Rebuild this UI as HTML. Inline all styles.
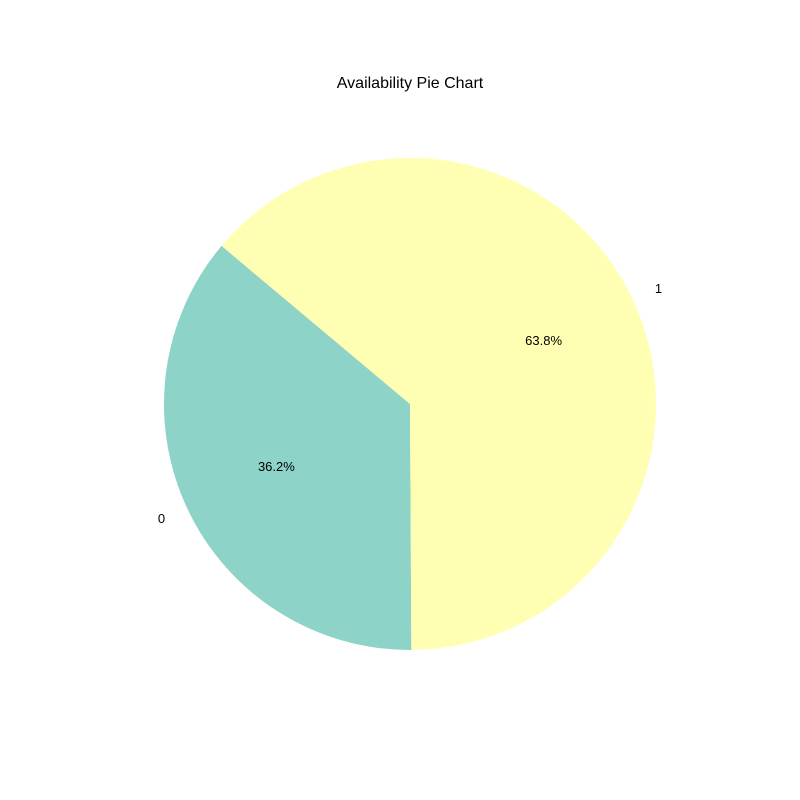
<!DOCTYPE html>
<html><head><meta charset="utf-8"><style>
html,body{margin:0;padding:0;background:#fff;}
svg{display:block;font-family:"Liberation Sans","DejaVu Sans",sans-serif;}
</style></head><body>
<svg id="chart" width="800" height="800">
<text x="410" y="88" text-anchor="middle" font-size="16">Availability Pie Chart</text>
<g id="slices"></g>
</svg>
<script>
const categories = ["0", "1"];
const values = [36.2, 63.8];
const colors = ["#8dd3c7", "#ffffb3"];
const cx = 410, cy = 404, r = 246, startAngle = 140;
const ns = "http://www.w3.org/2000/svg";
const g = document.getElementById('slices');
const total = values.reduce((a,b)=>a+b,0);
let a0 = startAngle;
function pt(angDeg, rad){const t=angDeg*Math.PI/180;return [cx+rad*Math.cos(t), cy-rad*Math.sin(t)];}
values.forEach((v,i)=>{
  const sweep = v/total*360, a1 = a0+sweep;
  const p0=pt(a0,r), p1=pt(a1,r);
  const large = sweep>180?1:0;
  const path=document.createElementNS(ns,'path');
  path.setAttribute('d',`M${cx},${cy} L${p0[0]},${p0[1]} A${r},${r} 0 ${large} 0 ${p1[0]},${p1[1]} Z`);
  path.setAttribute('fill',colors[i]);
  
  
  g.appendChild(path);
  const mid=(a0+a1)/2;
  const lp=pt(mid,r*1.1);
  const lt=document.createElementNS(ns,'text');
  lt.setAttribute('x',lp[0]);lt.setAttribute('y',lp[1]+4);
  lt.setAttribute('font-size','13');
  lt.setAttribute('text-anchor', Math.cos(mid*Math.PI/180)<0?'end':'start');
  lt.textContent=categories[i];
  
  
  g.appendChild(lt);
  const pp=pt(mid,r*0.6);
  const pt2=document.createElementNS(ns,'text');
  pt2.setAttribute('x',pp[0]);pt2.setAttribute('y',pp[1]+4);
  pt2.setAttribute('font-size','13');pt2.setAttribute('text-anchor','middle');
  pt2.textContent=(v/total*100).toFixed(1)+'%';
  
  
  g.appendChild(pt2);
  a0=a1;
});
</script>
</body></html>
